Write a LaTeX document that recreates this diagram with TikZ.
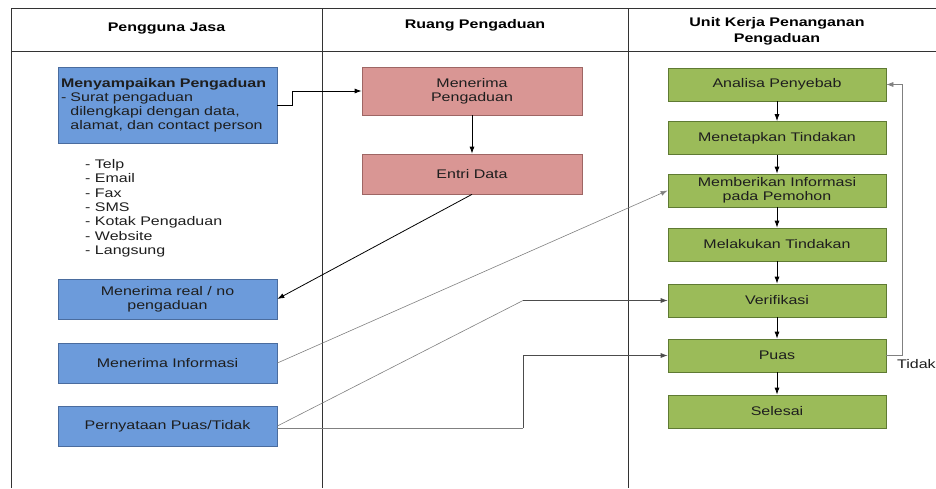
\documentclass[tikz,border=0pt]{standalone}
\usepackage{fontspec}
\setmainfont[FakeStretch=1.28]{Liberation Sans}
\usetikzlibrary{arrows.meta,calc}
\definecolor{bluefill}{HTML}{6C9BDB}
\definecolor{blueline}{HTML}{4A6C9E}
\definecolor{pinkfill}{HTML}{D99694}
\definecolor{pinkline}{HTML}{9E6664}
\definecolor{greenfill}{HTML}{9BBB59}
\definecolor{greenline}{HTML}{5F7A33}
\definecolor{txt}{HTML}{1E1E1E}
\begin{document}
\begin{tikzpicture}[x=1pt,y=-1pt,
  every node/.style={font=\fontsize{12.5}{14}\selectfont, text=txt},
  bluebox/.style={draw=blueline, fill=bluefill, line width=0.7pt, minimum width=219pt, align=center, inner sep=2pt},
  pinkbox/.style={draw=pinkline, fill=pinkfill, line width=0.7pt, minimum width=220pt, minimum height=40pt, align=center, inner sep=2pt},
  greenbox/.style={draw=greenline, fill=greenfill, line width=0.7pt, minimum width=218pt, minimum height=33pt, align=center, inner sep=2pt},
  frame/.style={line width=0.9pt, draw=black!80},
  arr/.style={draw=black, line width=0.8pt, -{Latex[length=7pt,width=5pt]}},
  thin/.style={draw=black!50, line width=0.6pt},
  thinarr/.style={thin, -{Latex[length=7pt,width=5pt]}},
  darkarr/.style={draw=black!70, line width=0.7pt, -{Latex[length=7pt,width=5pt]}},
  head/.style={font=\fontsize{12.5}{16}\selectfont\bfseries, text=black, align=center}]
\useasboundingbox (0,0) rectangle (936,488);
% frame
\draw[frame] (11,488) -- (11,8) -- (936,8);
\draw[frame] (11,51) -- (936,51);
\draw[frame] (322,8) -- (322,488);
\draw[frame] (628,8) -- (628,488);
% headers
\node[head] (h1) at (166.5,29) {Pengguna Jasa};
\node[head] (h2) at (475,25) {Ruang Pengaduan};
\node[head] (h3) at (777,31) {Unit Kerja Penanganan\\Pengaduan};
% left column
\node[bluebox, minimum height=76pt, align=left, text width=213pt, inner xsep=3pt] (menyampaikan) at (167.5,105)
  {\textbf{Menyampaikan Pengaduan}\\- Surat pengaduan\\\phantom{- }dilengkapi dengan data,\\\phantom{- }alamat, dan contact person};
\node[anchor=north west, inner sep=0pt, align=left, font=\fontsize{12.5}{14.4}\selectfont] (list) at (85,159)
  {- Telp\\- Email\\- Fax\\- SMS\\- Kotak Pengaduan\\- Website\\- Langsung};
\node[bluebox, minimum height=40pt] (real) at (167.5,299) {Menerima real / no\\pengaduan};
\node[bluebox, minimum height=40pt] (info) at (167.5,363) {Menerima Informasi};
\node[bluebox, minimum height=40pt] (puastidak) at (167.5,426) {Pernyataan Puas/Tidak};
% middle column
\node[pinkbox, minimum height=48pt] (mp) at (472,91) {Menerima\\Pengaduan};
\node[pinkbox] (entri) at (472,174) {Entri Data};
% right column
\node[greenbox] (analisa) at (777,84.5) {Analisa Penyebab};
\node[greenbox] (menetapkan) at (777,138) {Menetapkan Tindakan};
\node[greenbox] (memberikan) at (777,190.5) {Memberikan Informasi\\pada Pemohon};
\node[greenbox] (melakukan) at (777,244.5) {Melakukan Tindakan};
\node[greenbox] (verifikasi) at (777,300.5) {Verifikasi};
\node[greenbox] (puas) at (777,355.5) {Puas};
\node[greenbox] (selesai) at (777,411.5) {Selesai};
\node[anchor=west, inner sep=0pt] (tidak) at (897,364) {Tidak};
% connectors
\draw[arr] (menyampaikan.east) -- ++(15,0) |- (mp.west);
\draw[arr] (mp.south) -- (entri.north);
\draw[arr] (entri.south) -- (real.east);
\draw[arr] (analisa.south) -- (menetapkan.north);
\draw[arr] (menetapkan.south) -- (memberikan.north);
\draw[arr] (memberikan.south) -- (melakukan.north);
\draw[arr] (melakukan.south) -- (verifikasi.north);
\draw[arr] (verifikasi.south) -- (puas.north);
\draw[arr] (puas.south) -- (selesai.north);
\draw[thinarr] (info.east) -- (memberikan.west);
\coordinate (v1) at (523,300.5);
\coordinate (p1) at (523,428);
\draw[thin] (puastidak.east) -- (v1);
\draw[darkarr] (v1) -- (verifikasi.west);
\draw[thin] ([yshift=-2pt]puastidak.east) -- (p1);
\draw[darkarr] (p1) |- (puas.west);
\draw[thinarr] (puas.east) -- (902,355.5) |- (analisa.east);
\end{tikzpicture}
\end{document}
